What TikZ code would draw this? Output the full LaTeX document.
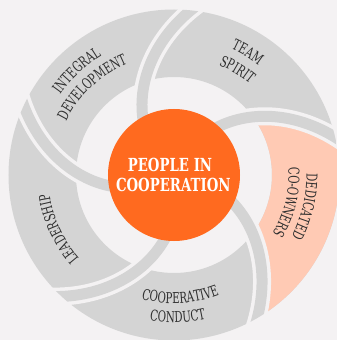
\documentclass[tikz,border=0pt]{standalone}
\usepackage{fontspec}
\usetikzlibrary{decorations.text}
\newfontfamily\slabfont{DejaVu Serif}[FakeStretch=0.74]
\newfontfamily\slablabelfont{DejaVu Serif}[FakeStretch=0.68]
\definecolor{bgc}{HTML}{F4F2F3}
\definecolor{segc}{HTML}{D4D4D4}
\definecolor{peachc}{HTML}{FFCAB4}
\definecolor{orangec}{HTML}{FF6A1F}
\definecolor{txtc}{HTML}{2E2E2E}
\newcommand\seglabelfont{\slablabelfont\fontsize{15}{17}\selectfont\color{txtc}}
\tikzset{
  sepline/.style={bgc, line width=18pt},
  bandline/.style={segc, line width=11pt},
  hubtext/.style={text=white, font=\slabfont\bfseries\fontsize{18}{20}\selectfont, anchor=base, inner sep=0pt},
  arctext/.style={decorate, decoration={text along path, text align=center, text={|\seglabelfont|#1}}}
}
\begin{document}
\begin{tikzpicture}[x=1pt,y=1pt]
\fill[bgc] (-174,-165) rectangle (163,175);
\useasboundingbox (-174,-165) rectangle (163,175);
% outer annulus
\fill[segc, even odd rule] (0,0) circle[radius=165.5pt] (0,0) circle[radius=98pt];
% highlighted segment
\fill[peachc] plot[smooth, samples=30, domain=98:165.5, variable=\rr] ({47-0.343*(\rr-67)}:\rr)
  arc[start angle={47-0.343*(165.5-67)}, end angle={-26-0.343*(165.5-67)}, radius=165.5pt]
  -- plot[smooth, samples=30, domain=165.5:98, variable=\rr] ({-26-0.343*(\rr-67)}:\rr)
  arc[start angle={-26-0.343*31}, end angle={47-0.343*31}, radius=98pt] -- cycle;
% spiral separators
\foreach \a in {118,47,-26,-99,-171}{
  \draw[sepline] plot[smooth, samples=40, domain=55:182, variable=\rr] ({\a-0.343*(\rr-67)}:\rr);
}
\begin{scope}
\clip (0,0) circle[radius=165.5pt];
\foreach \a in {118,47,-26,-99,-171}{
  \draw[bandline] plot[smooth, samples=40, domain=55:182, variable=\rr] ({\a-0.343*(\rr-67)}:\rr);
}
\end{scope}
% hub
\node[circle, fill=orangec, minimum size=132pt, inner sep=0pt] (hub) at (0,0) {};
\node[hubtext] (hubtop) at (-4,3.3) {PEOPLE IN};
\node[hubtext] (hubbot) at (-0.7,-16.7) {COOPERATION};
% labels
\path[arctext={INTEGRAL}] (163:139.6) arc[start angle=163, end angle=103, radius=139.6pt];
\path[arctext={DEVELOPMENT}] (163:120.6) arc[start angle=163, end angle=103, radius=120.6pt];
\path[arctext={TEAM}] (89:138.6) arc[start angle=89, end angle=29, radius=138.6pt];
\path[arctext={SPIRIT}] (89:118.6) arc[start angle=89, end angle=29, radius=118.6pt];
\path[arctext={DEDICATED}] (16.5:132.6) arc[start angle=16.5, end angle=-43.5, radius=132.6pt];
\path[arctext={CO-OWNERS}] (16.5:114.6) arc[start angle=16.5, end angle=-43.5, radius=114.6pt];
\path[arctext={LEADERSHIP}] (235:126.1) arc[start angle=235, end angle=175, radius=126.1pt];
\path[arctext={COOPERATIVE}] (-117:128.4) arc[start angle=-117, end angle=-57, radius=128.4pt];
\path[arctext={CONDUCT}] (-118.5:147.4) arc[start angle=-118.5, end angle=-58.5, radius=147.4pt];
\end{tikzpicture}
\end{document}
